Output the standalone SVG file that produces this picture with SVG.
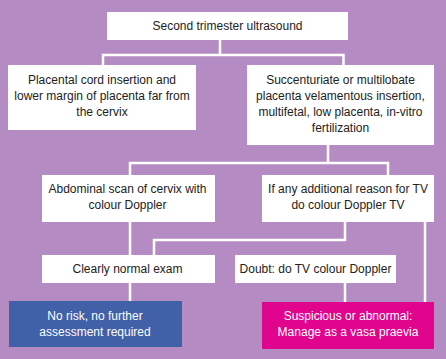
<svg xmlns="http://www.w3.org/2000/svg" width="446" height="359" viewBox="0 0 446 359">
<style>
.bg{fill:#b48cc3}
.box{fill:#ffffff}
.blue{fill:#4060a8}
.pink{fill:#e1048c}
.t{font-family:"Liberation Sans",Arial,sans-serif;font-size:12px;fill:#222;text-anchor:middle}
.w{fill:#ffffff}
.c{stroke:#ffffff;stroke-width:2.5;fill:none}
</style>
<rect class="bg" x="0" y="0" width="446" height="359"/>
<g id="connectors">
<path class="c" d="M220 40V55M103 65V55H343.5V65"/>
<path class="c" d="M328 145V163M130 175V163H388V175"/>
<path class="c" d="M130 222V255"/>
<path class="c" d="M345 222V240H154V255"/>
<path class="c" d="M425 222V302"/>
<path class="c" d="M130 283V301"/>
<path class="c" d="M345 283V302"/>
</g>
<g id="n1">
<rect class="box" x="107" y="12" width="241" height="28"/>
<text class="t" x="227.5" y="30">Second trimester ultrasound</text>
</g>
<g id="n2">
<rect class="box" x="8" y="65" width="188" height="65"/>
<text class="t" x="102" y="84">Placental cord insertion and</text>
<text class="t" x="102" y="100">lower margin of placenta far from</text>
<text class="t" x="102" y="116">the cervix</text>
</g>
<g id="n3">
<rect class="box" x="247" y="65" width="187" height="80"/>
<text class="t" x="340.5" y="84">Succenturiate or multilobate</text>
<text class="t" x="340.5" y="100">placenta velamentous insertion,</text>
<text class="t" x="340.5" y="116">multifetal, low placenta, in-vitro</text>
<text class="t" x="340.5" y="132">fertilization</text>
</g>
<g id="n4">
<rect class="box" x="42" y="175" width="173" height="47"/>
<text class="t" x="127.5" y="193">Abdominal scan of cervix with</text>
<text class="t" x="127.5" y="209">colour Doppler</text>
</g>
<g id="n5">
<rect class="box" x="262" y="175" width="172" height="47"/>
<text class="t" x="348" y="193">If any additional reason for TV</text>
<text class="t" x="348" y="209">do colour Doppler TV</text>
</g>
<g id="n6">
<rect class="box" x="42" y="255" width="173" height="28"/>
<text class="t" x="127.5" y="273">Clearly normal exam</text>
</g>
<g id="n7">
<rect class="box" x="235" y="255" width="161" height="28"/>
<text class="t" x="315.5" y="273">Doubt: do TV colour Doppler</text>
</g>
<g id="n8">
<rect class="blue" x="9" y="301" width="173" height="46"/>
<text class="t w" x="95" y="320">No risk, no further</text>
<text class="t w" x="95" y="336">assessment required</text>
</g>
<g id="n9">
<rect class="pink" x="262" y="302" width="172" height="47"/>
<text class="t w" x="348" y="320">Suspicious or abnormal:</text>
<text class="t w" x="348" y="336">Manage as a vasa praevia</text>
</g>
</svg>
